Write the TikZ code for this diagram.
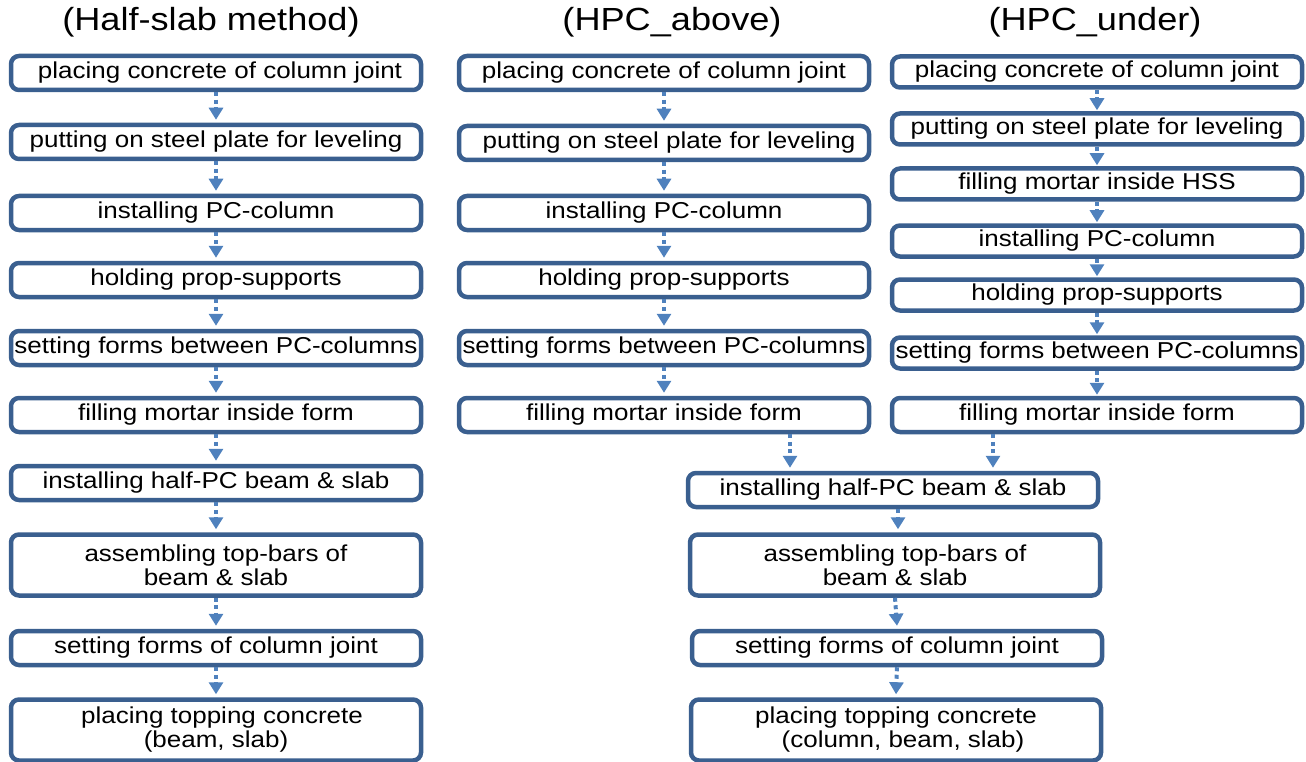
\documentclass[tikz,border=0pt]{standalone}
\usepackage{fontspec}
\setmainfont{Liberation Sans}[FakeStretch=1.13]
\usetikzlibrary{arrows.meta}
\definecolor{boxc}{HTML}{3A5F8F}
\definecolor{arrc}{HTML}{4F81BD}
\tikzset{
  stepbox/.style={draw=boxc, line width=4.5pt, rounded corners=8pt, fill=white,
    minimum width=410pt, minimum height=34pt, inner sep=0pt, align=center,
    font=\fontsize{23}{24}\selectfont},
  rbox/.style={stepbox, minimum height=31pt},
  tall/.style={minimum height=61pt},
  arr/.style={draw=arrc, line width=4pt, dash pattern=on 4pt off 3.5pt,
    -{Triangle[width=14pt,length=12pt]}},
  title/.style={font=\fontsize{32}{36}\selectfont, inner sep=0pt}
}
\begin{document}
\begin{tikzpicture}[x=1pt,y=-1pt]
\useasboundingbox (0,0) rectangle (1306,762);
% titles
\node[title] (t1) at (211,22) {(Half-slab method)};
\node[title] (t2) at (672,22) {(HPC\_above)};
\node[title] (t3) at (1095,22) {(HPC\_under)};
% left column
\node[stepbox] (L1) at (216,73) {\hspace{8pt}placing concrete of column joint};
\node[stepbox] (L2) at (216,142) {putting on steel plate for leveling};
\node[stepbox] (L3) at (216,213) {installing PC-column};
\node[stepbox] (L4) at (216,280) {holding prop-supports};
\node[stepbox] (L5) at (216,348) {setting forms between PC-columns};
\node[stepbox] (L6) at (216,415) {filling mortar inside form};
\node[stepbox] (L7) at (216,483) {installing half-PC beam \& slab};
\node[stepbox,tall] (L8) at (216,565) {assembling top-bars of\\beam \& slab};
\node[stepbox] (L9) at (216,648) {setting forms of column joint};
\node[stepbox,tall] (L10) at (216,730) {\hspace{12pt}placing topping concrete\\(beam, slab)};
% middle column
\node[stepbox] (M1) at (664,73) {placing concrete of column joint};
\node[stepbox] (M2) at (664,143) {\hspace{10pt}putting on steel plate for leveling};
\node[stepbox] (M3) at (664,213) {installing PC-column};
\node[stepbox] (M4) at (664,280) {holding prop-supports};
\node[stepbox] (M5) at (664,348) {setting forms between PC-columns};
\node[stepbox] (M6) at (664,415) {filling mortar inside form};
% right column
\node[rbox] (R1) at (1097,72) {placing concrete of column joint};
\node[rbox] (R2) at (1097,129) {putting on steel plate for leveling};
\node[rbox] (R3) at (1097,184) {filling mortar inside HSS};
\node[rbox] (R4) at (1097,241) {installing PC-column};
\node[rbox] (R5) at (1097,295) {holding prop-supports};
\node[rbox] (R6) at (1097,353) {setting forms between PC-columns};
\node[stepbox] (R7) at (1097,415) {filling mortar inside form};
% bottom merged column
\node[stepbox] (B1) at (893,490) {installing half-PC beam \& slab};
\node[stepbox,tall] (B2) at (895,565) {assembling top-bars of\\beam \& slab};
\node[stepbox] (B3) at (897,648) {setting forms of column joint};
\node[stepbox,tall] (B4) at (896,730) {placing topping concrete\\\hspace{14pt}(column, beam, slab)};
% arrows left
\foreach \a/\b in {L1/L2,L2/L3,L3/L4,L4/L5,L5/L6,L6/L7,L7/L8,L8/L9,L9/L10}
  \draw[arr] (\a.south) -- ([yshift=3pt]\b.north);
% arrows middle
\foreach \a/\b in {M1/M2,M2/M3,M3/M4,M4/M5,M5/M6}
  \draw[arr] (\a.south) -- ([yshift=3pt]\b.north);
% arrows right
\foreach \a/\b in {R1/R2,R2/R3,R3/R4,R4/R5,R5/R6,R6/R7}
  \draw[arr] (\a.south) -- ([yshift=1pt]\b.north);
% merge arrows
\coordinate (ms) at ([xshift=126pt]M6.south);
\coordinate (rs) at ([xshift=-104pt]R7.south);
\draw[arr] (ms) -- ([yshift=3pt]ms |- B1.north);
\draw[arr] (rs) -- ([yshift=3pt]rs |- B1.north);
% arrows bottom
\draw[arr] ([xshift=5pt]B1.south) -- ([yshift=3pt,xshift=3pt]B2.north);
\draw[arr] (B2.south) -- ([yshift=3pt]B3.north);
\draw[arr] (B3.south) -- ([yshift=3pt]B4.north);
\end{tikzpicture}
\end{document}
